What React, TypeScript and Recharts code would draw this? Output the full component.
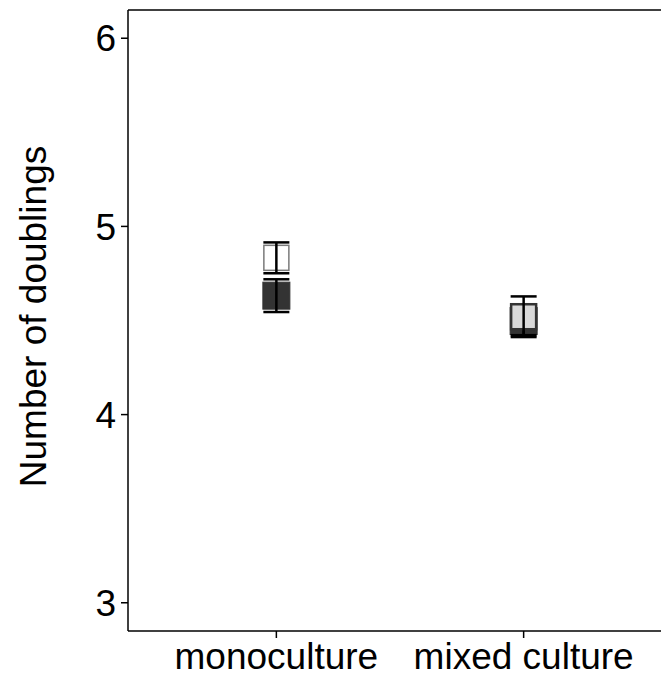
import { ComposedChart, ErrorBar, ReferenceLine, Scatter, XAxis, YAxis } from 'recharts'

const FONT = '"Liberation Sans", Arial, Helvetica, sans-serif'

// culture types on the x axis
const cultures = ['monoculture', 'mixed culture']
const culturePos = [1, 2]
const yTicks = [3, 4, 5, 6]

// mean number of doublings and error per culture (null = not measured)
const openMean = [4.833, null]
const openErr = [0.082, null]
const darkMean = [4.632, 4.497]
const darkErr = [0.087, 0.075]
const greyMean = [null, 4.52]
const greyErr = [null, 0.108]

interface Row {
  x: number
  y: number
  err: number
}

function toRows(means: (number | null)[], errs: (number | null)[]): Row[] {
  const rows: Row[] = []
  means.forEach((m, i) => {
    if (m != null) rows.push({ x: culturePos[i], y: m, err: errs[i] ?? 0 })
  })
  return rows
}

const openRows = toRows(openMean, openErr)
const darkRows = toRows(darkMean, darkErr)
const greyRows = toRows(greyMean, greyErr)

function square(size: number, fill: string, stroke: string, strokeWidth: number) {
  return (props: any) => {
    const { cx, cy } = props
    if (cx == null || cy == null) return <g />
    return (
      <rect
        x={cx - size / 2}
        y={cy - size / 2}
        width={size}
        height={size}
        fill={fill}
        stroke={stroke}
        strokeWidth={strokeWidth}
      />
    )
  }
}

const noShape = () => <g />

function YTitle(props: any) {
  const vb = props.viewBox ?? { x: 0, y: 0, width: 0, height: 0 }
  const x = vb.x + 33
  const y = vb.y + vb.height / 2 - 4
  return (
    <text
      x={x}
      y={y}
      transform={`rotate(-90 ${x} ${y})`}
      textAnchor="middle"
      dominantBaseline="central"
      fontSize={37}
      fontFamily={FONT}
      fill="#000"
    >
      Number of doublings
    </text>
  )
}

// error bars sit above the squares, each group stacked over the previous one
function errorSeries(rows: Row[], key: string, z: number) {
  return (
    <Scatter key={key} data={rows} dataKey="y" shape={noShape} isAnimationActive={false} zIndex={z}>
      <ErrorBar dataKey="err" direction="y" width={13} stroke="#000" strokeWidth={2.5} zIndex={z} />
    </Scatter>
  )
}

export default function App() {
  return (
    <div style={{ position: 'fixed', left: 0, top: 0, width: 661, height: 678, overflow: 'hidden', background: '#fff' }}>
      <ComposedChart width={700} height={678} margin={{ top: 10, right: 28, bottom: 0, left: 0 }}>
        <XAxis
          type="number"
          dataKey="x"
          domain={[0.4, 2.6]}
          ticks={culturePos}
          tickFormatter={(v: number) => cultures[culturePos.indexOf(v)] ?? ''}
          height={47}
          tickSize={7}
          tickMargin={5}
          stroke="#000"
          strokeWidth={1.5}
          tick={{ fontSize: 37, fontFamily: FONT, fill: '#000' }}
          allowDataOverflow
        />
        <YAxis
          type="number"
          domain={[2.85, 6.15]}
          ticks={yTicks}
          width={128}
          tickSize={7}
          tickMargin={5}
          stroke="#000"
          strokeWidth={1.5}
          tick={{ fontSize: 37, fontFamily: FONT, fill: '#000' }}
          label={<YTitle />}
          allowDataOverflow
        />
        <ReferenceLine y={6.15} stroke="#000" strokeWidth={1.5} />

        <Scatter data={darkRows} dataKey="y" shape={square(27, '#333333', '#333333', 1)} isAnimationActive={false} zIndex={600} />
        {errorSeries(darkRows, 'dark-err', 610)}
        <Scatter data={openRows} dataKey="y" shape={square(25, '#ffffff', '#7a7a7a', 1.5)} isAnimationActive={false} zIndex={620} />
        {errorSeries(openRows, 'open-err', 630)}
        <Scatter data={greyRows} dataKey="y" shape={square(25, '#d9d9d9', '#333333', 2.5)} isAnimationActive={false} zIndex={640} />
        {errorSeries(greyRows, 'grey-err', 650)}
      </ComposedChart>
    </div>
  )
}
